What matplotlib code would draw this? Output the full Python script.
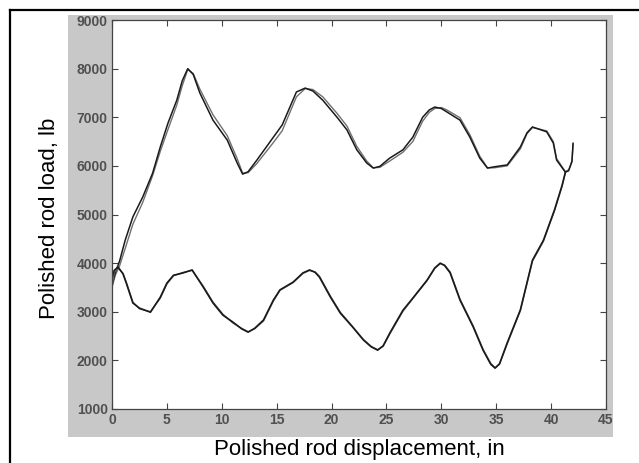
import matplotlib
matplotlib.use("Agg")
import matplotlib.pyplot as plt
from matplotlib.lines import Line2D
from matplotlib.patches import Rectangle

plt.rcParams['font.family'] = ['Liberation Sans', 'DejaVu Sans']

# Upstroke (upper curve) - two nearly overlapping traces
up_x = [0, 0.3, 0.7, 1.2, 1.9, 2.8, 3.7, 4.4, 5.1, 5.9,
        6.4, 6.9, 7.4, 8.0, 9.2, 10.5, 11.4, 11.9, 12.4, 13.2,
        14.7, 15.5, 16.8, 17.6, 18.3, 19.2, 20.5, 21.4, 22.3, 23.2,
        23.8, 24.4, 25.3, 26.5, 27.4, 28.3, 28.9, 29.4, 30.0, 30.5,
        31.7, 32.6, 33.5, 34.2, 34.8, 36.0, 37.2, 37.8, 38.3, 39.6,
        40.2, 40.5, 41.3, 41.6, 41.9, 42.0]
up_a = [3550, 3800, 4050, 4470, 4950, 5360, 5850, 6390, 6880, 7350,
        7750, 8000, 7880, 7500, 6940, 6530, 6060, 5830, 5880, 6120,
        6590, 6840, 7520, 7600, 7540, 7350, 7000, 6740, 6330, 6060,
        5955, 5990, 6160, 6330, 6590, 7000, 7150, 7210, 7180, 7110,
        6940, 6590, 6160, 5955, 5980, 6020, 6390, 6680, 6800, 6700,
        6470, 6120, 5870, 5900, 6100, 6470]
up_b = [3500, 3750, 3950, 4300, 4800, 5250, 5800, 6300, 6750, 7250,
        7650, 7980, 7900, 7580, 7050, 6620, 6150, 5850, 5860, 6050,
        6480, 6720, 7420, 7590, 7570, 7420, 7080, 6820, 6400, 6100,
        5960, 5970, 6100, 6280, 6500, 6920, 7100, 7180, 7200, 7150,
        6990, 6640, 6200, 5960, 5960, 6000, 6350, 6660, 6790, 6720,
        6500, 6150, 5880, 5920, 6080, 6450]

# Downstroke (lower curve)
lo_x = [0, 0.2, 0.55, 1.0, 1.3, 1.9, 2.5, 3.5, 4.4, 5.0,
        5.6, 6.5, 7.3, 8.3, 9.2, 10.1, 11.0, 11.8, 12.4, 13.0,
        13.8, 14.7, 15.3, 16.5, 17.4, 18.0, 18.5, 18.9, 19.9, 20.8,
        21.9, 22.9, 23.6, 24.2, 24.7, 25.3, 26.5, 27.4, 28.7, 29.4,
        29.9, 30.3, 30.8, 31.7, 32.9, 33.8, 34.5, 34.9, 35.3, 36.0,
        37.2, 38.3, 39.3, 40.3, 41.0, 41.3]
lo_a = [3700, 3850, 3920, 3780, 3590, 3180, 3075, 2990, 3300, 3590,
        3750, 3800, 3860, 3510, 3180, 2930, 2790, 2650, 2580, 2660,
        2830, 3240, 3450, 3610, 3800, 3860, 3810, 3710, 3300, 2970,
        2690, 2420, 2280, 2210, 2300, 2560, 3030, 3280, 3650, 3900,
        4000, 3950, 3800, 3240, 2690, 2210, 1920, 1840, 1930, 2360,
        3040, 4060, 4470, 5090, 5600, 5870]
lo_b = [3500, 3800, 3900, 3790, 3610, 3200, 3060, 3000, 3280, 3570,
        3740, 3810, 3850, 3530, 3200, 2950, 2770, 2660, 2590, 2650,
        2810, 3220, 3440, 3600, 3790, 3850, 3820, 3730, 3320, 2990,
        2700, 2430, 2290, 2220, 2290, 2540, 3010, 3270, 3640, 3890,
        3990, 3960, 3820, 3260, 2710, 2230, 1940, 1850, 1920, 2340,
        3020, 4040, 4450, 5070, 5580, 5860]

x_ticks = [0, 5, 10, 15, 20, 25, 30, 35, 40, 45]
y_ticks = [1000, 2000, 3000, 4000, 5000, 6000, 7000, 8000, 9000]

W, H = 639, 463
fig = plt.figure(figsize=(W / 100, H / 100), dpi=100)
fig.patch.set_facecolor('white')

# gray panel behind the axes (MATLAB style)
fig.add_artist(Rectangle((68 / W, 1 - 437 / H), (613 - 68) / W, (437 - 15) / H,
                         transform=fig.transFigure, facecolor='#c8c8c8',
                         edgecolor='none', zorder=0))
# black frame (top and left edges)
fig.add_artist(Line2D([10 / W, 1], [1 - 10 / H, 1 - 10 / H], transform=fig.transFigure,
                      color='black', lw=1.6))
fig.add_artist(Line2D([10 / W, 10 / W], [0, 1 - 10 / H], transform=fig.transFigure,
                      color='black', lw=1.6))

ax = fig.add_axes([112 / W, 1 - 409 / H, (606 - 112) / W, (409 - 20) / H])
ax.set_facecolor('white')

style = dict(solid_joinstyle='round', solid_capstyle='round')
ax.plot(up_x, up_b, color='#707070', lw=1.0, **style)
ax.plot(up_x, up_a, color='#1a1a1a', lw=1.1, **style)
ax.plot(lo_x, lo_b, color='#606060', lw=1.0, **style)
ax.plot(lo_x, lo_a, color='#1a1a1a', lw=1.2, **style)

ax.set_xlim(0, 45)
ax.set_ylim(1000, 9000)
ax.set_xticks(x_ticks)
ax.set_yticks(y_ticks)
ax.tick_params(direction='in', length=4, width=0.8, color='#444444',
               top=True, right=True, labelsize=10, labelcolor='#505050', pad=3)
for lab in ax.get_xticklabels() + ax.get_yticklabels():
    lab.set_fontweight('bold')
for sp in ax.spines.values():
    sp.set_color('#444444')
    sp.set_linewidth(0.9)

fig.text(359 / W, 1 - 450 / H, "Polished rod displacement, in", ha='center', va='center',
         fontsize=16, color='black')
fig.text(50 / W, 1 - 218 / H, "Polished rod load, lb", ha='center', va='center',
         rotation=90, fontsize=16, color='black')

fig.savefig("out.png", dpi=100)
